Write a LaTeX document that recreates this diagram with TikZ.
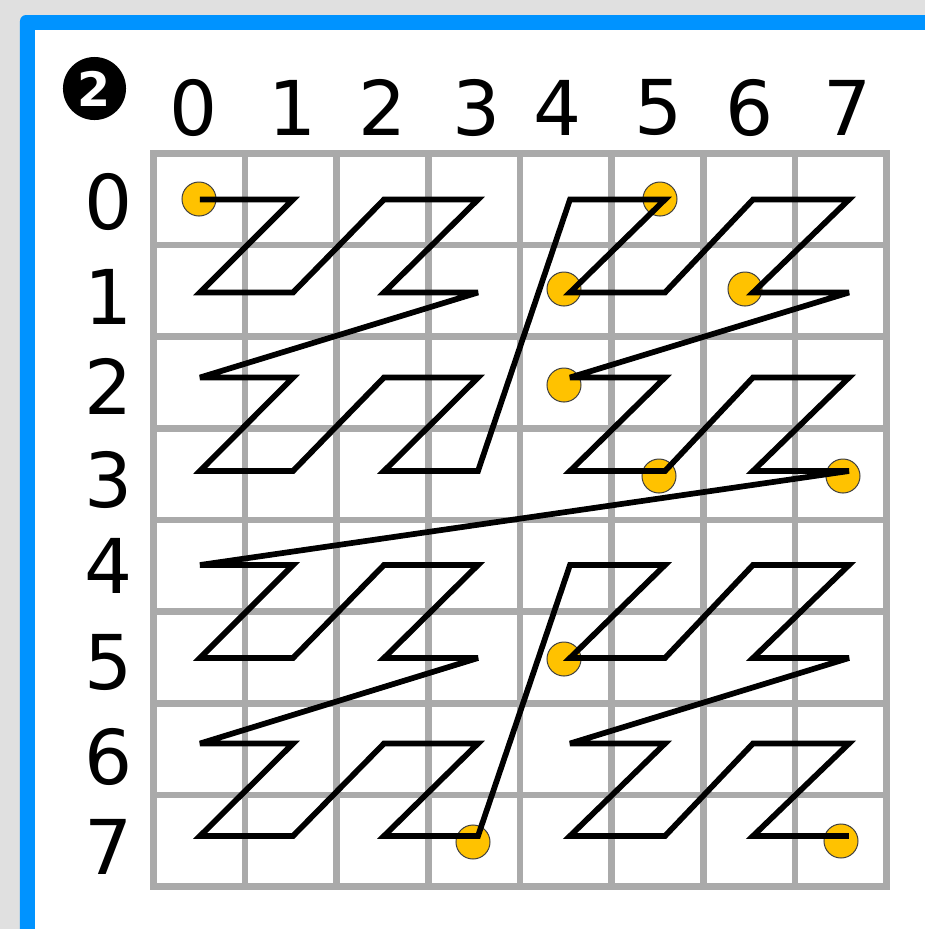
\documentclass[tikz,border=0pt]{standalone}
\usepackage{fontspec}
\setmainfont{DejaVu Sans}
\definecolor{bggray}{RGB}{224,224,224}
\definecolor{frameblue}{RGB}{0,147,255}
\definecolor{gridgray}{RGB}{170,170,170}
\definecolor{hityellow}{RGB}{255,194,0}

\tikzset{
	gridline/.style={line width=0.65mm, color=gridgray, line cap=rect},
	zcurve/.style={line width=0.57mm, line join=miter, miter limit=4},
	hit/.style={circle, fill=hityellow, draw=black!75, line width=0.1mm, minimum size=3.4mm, inner sep=0pt},
	lbl/.style={font=\fontsize{21.5}{26}\selectfont, inner sep=0pt},
	badge/.style={circle, fill=black, text=white, font=\bfseries\fontsize{13.5}{16}\selectfont, minimum size=6.3mm, inner sep=0pt}
}
% curve positions of the columns and rows (0.1mm units)
\def\curvex{{200,293,384,478,570,665,753,849}}
\def\curvey{{199.5,292.5,377.5,471,565,658,743.5,836}}

\begin{document}
\begin{tikzpicture}[x=0.01cm, y=-0.01cm]
		\useasboundingbox (0,0) rectangle (925,929);
		\fill [bggray] (0,0) rectangle (925,929);
		\fill [frameblue, rounded corners=0.6mm] (20,15) rectangle (960,960);
		\fill [white] (35,30) rectangle (960,960);
		% grid
		\foreach \k in {0,...,8} {
			\draw [gridline] ({153.3+91.67*\k},153.3) -- ({153.3+91.67*\k},886.7);
			\draw [gridline] (153.3,{153.3+91.67*\k}) -- (886.7,{153.3+91.67*\k});
		}
		% labels
		\node [badge] (badge) at (94.5,88.5) {2};
		\foreach \n/\x in {0/194,1/293,2/383,3/477,4/558,5/659,6/750,7/848}
			\node [lbl] (col\n) at (\x,107.5) {\n};
		\foreach \n/\y in {0/202,1/297,2/386,3/480,4/566,5/662,6/757,7/847}
			\node [lbl] (row\n) at (109,\y) {\n};
		% found points
		\foreach \cr/\x/\y in {00/199/199, 50/660/199, 41/564/289, 61/745/289, 42/564/385,
				53/659/476, 73/843/476, 45/564/659, 37/473/842, 77/841/841}
			\node [hit] (h\cr) at (\x,\y) {};
		% z-order curve
		\foreach \i in {0,...,63} {
			\pgfmathtruncatemacro\zc{mod(\i,2)+2*mod(int(\i/4),2)+4*mod(int(\i/16),2)}
			\pgfmathtruncatemacro\zr{mod(int(\i/2),2)+2*mod(int(\i/8),2)+4*mod(int(\i/32),2)}
			\pgfmathsetmacro\px{\curvex[\zc]}
			\pgfmathsetmacro\py{\curvey[\zr]}
			\coordinate (z\i) at (\px,\py);
		}
		\draw [zcurve] (z0) \foreach \i in {1,...,63} {-- (z\i)};
	\end{tikzpicture}
\end{document}
